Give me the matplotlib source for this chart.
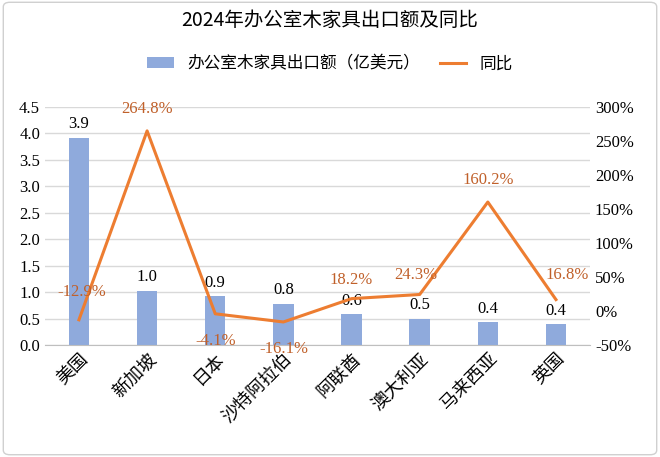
import numpy as np
import matplotlib
matplotlib.use('Agg')
import matplotlib.pyplot as plt
from matplotlib.patches import FancyBboxPatch

countries = ['美国', '新加坡', '日本', '沙特阿拉伯', '阿联酋', '澳大利亚', '马来西亚', '英国']
export_value = [3.92, 1.03, 0.93, 0.78, 0.59, 0.50, 0.43, 0.39]
value_labels = ['3.9', '1.0', '0.9', '0.8', '0.6', '0.5', '0.4', '0.4']
yoy = [-12.9, 264.8, -4.1, -16.1, 18.2, 24.3, 160.2, 16.8]

cjk = 'Noto Sans CJK SC'
serif = 'Liberation Serif'
bar_color = '#8faadc'
line_color = '#ed7d31'
lab_color = '#c0602a'

fig = plt.figure(figsize=(6.6, 4.57), dpi=100)
fig.patches.append(FancyBboxPatch((0.005, 0.005), 0.99, 0.99, boxstyle='round,pad=0,rounding_size=0.01',
                                  transform=fig.transFigure, fill=False, edgecolor='#d0d0d0', lw=1))
ax = fig.add_axes([0.068, 0.245, 0.826, 0.521])
ax2 = ax.twinx()

x = np.arange(len(countries))
ax.bar(x, export_value, width=0.3, color=bar_color, label='办公室木家具出口额（亿美元）', zorder=2)
ax2.plot(x, yoy, color=line_color, lw=2.2, label='同比', zorder=3)

ax.set_ylim(0, 4.5)
ax.set_yticks(np.arange(0, 4.51, 0.5))
ax.set_yticklabels([f'{v:.1f}' for v in np.arange(0, 4.51, 0.5)], fontfamily=serif, fontsize=12)
ax2.set_ylim(-50, 300)
ax2.set_yticks(np.arange(-50, 301, 50))
ax2.set_yticklabels([f'{v}%' for v in range(-50, 301, 50)], fontfamily=serif, fontsize=12)
ax.set_xlim(-0.5, len(countries) - 0.5)
ax.set_xticks(x)
ax.set_xticklabels(countries, fontfamily=cjk, fontsize=13, rotation=45, ha='right', rotation_mode='anchor')
ax.grid(axis='y', color='#d9d9d9', lw=1, zorder=0)
for a in (ax, ax2):
    for s in a.spines.values():
        s.set_visible(False)
    a.tick_params(length=0)
ax.spines['bottom'].set_visible(True)
ax.spines['bottom'].set_color('#bfbfbf')

for i, (v, t) in enumerate(zip(export_value, value_labels)):
    ax.text(i, v + 0.1, t, ha='center', va='bottom', fontfamily=serif, fontsize=12)

offsets = [(2, 14), (0, 10), (0, -14), (0, -14), (0, 8), (-3, 8), (0, 10), (8, 12)]
for i, (v, off) in enumerate(zip(yoy, offsets)):
    ax2.annotate(f'{v}%', (i, v), xytext=off, textcoords='offset points', ha='center',
                 va='bottom' if off[1] > 0 else 'top', fontfamily=serif, fontsize=12, color=lab_color)

fig.text(0.5, 0.955, '2024年办公室木家具出口额及同比', ha='center', va='center', fontfamily=cjk, fontsize=14)
h1, l1 = ax.get_legend_handles_labels()
h2, l2 = ax2.get_legend_handles_labels()
fig.legend(h1 + h2, l1 + l2, loc='center', bbox_to_anchor=(0.5, 0.86), ncol=2, frameon=False,
           prop={'family': cjk, 'size': 12}, handlelength=1.6, columnspacing=1.2)

fig.savefig('out.png', dpi=100)
